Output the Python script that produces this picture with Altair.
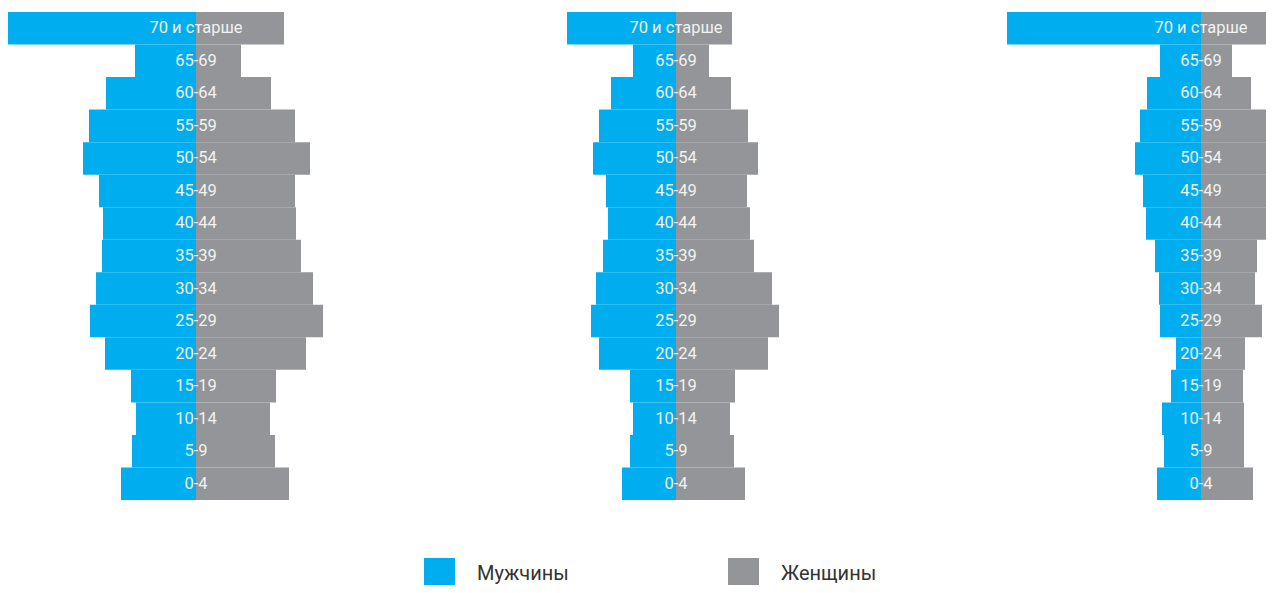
import altair as alt
import pandas as pd

ages = ["70 и старше", "65-69", "60-64", "55-59", "50-54", "45-49", "40-44",
        "35-39", "30-34", "25-29", "20-24", "15-19", "10-14", "5-9", "0-4"]
sexes = ["Мужчины", "Женщины"]
colors = ["#00AEEF", "#939598"]

male_1 = [188, 61, 90, 107, 113, 97, 93, 94, 100, 106, 91, 65, 60, 64, 75]
female_1 = [88, 45, 75, 99, 114, 99, 100, 105, 117, 127, 110, 80, 74, 79, 93]
male_2 = [109, 43, 65, 77, 83, 70, 68, 73, 80, 85, 77, 46, 43, 46, 54]
female_2 = [56, 33, 55, 72, 82, 71, 74, 78, 96, 103, 92, 59, 54, 58, 69]
male_3 = [194, 41, 54, 61, 66, 58, 55, 46, 42, 41, 25, 30, 39, 37, 44]
female_3 = [80, 31, 50, 69, 78, 76, 75, 56, 54, 61, 44, 42, 43, 43, 52]

FONT = "Roboto"


def panel(male, female, domain, width):
    rows = []
    for a, m, f in zip(ages, male, female):
        rows.append({"age": a, "sex": sexes[0], "value": m})
        rows.append({"age": a, "sex": sexes[1], "value": f})
    df = pd.DataFrame(rows)
    xscale = alt.Scale(domain=domain, nice=False, zero=False)
    yenc = alt.Y("age:N", sort=ages, axis=None,
                 scale=alt.Scale(paddingInner=0, paddingOuter=0))
    base = alt.Chart(df).transform_calculate(
        signed=f"datum.sex == '{sexes[0]}' ? -datum.value : datum.value",
        zero="0",
    )
    bars = base.mark_bar(clip=True, strokeWidth=0).encode(
        x=alt.X("signed:Q", scale=xscale, axis=None),
        y=yenc,
        color=alt.Color(
            "sex:N",
            scale=alt.Scale(domain=sexes, range=colors),
            legend=alt.Legend(
                orient="none", legendX=416, legendY=546, direction="horizontal",
                title=None, symbolType="square", symbolSize=961,
                symbolStrokeWidth=0, symbolOpacity=1,
                labelFont=FONT, labelFontSize=20, labelColor="#333333",
                labelOffset=22, columnPadding=159,
            ),
        ),
    )
    labels = base.transform_filter(
        f"datum.sex == '{sexes[0]}'"
    ).mark_text(
        color="#F1F2F2", fontSize=16.5, font=FONT,
        align="center", baseline="middle",
    ).encode(
        x=alt.X("zero:Q", scale=xscale, axis=None),
        y=yenc,
        text="age:N",
    )
    return alt.layer(bars, labels).properties(width=width, height=488)


p1 = panel(male_1, female_1, [-188, 244], 432)
p2 = panel(male_2, female_2, [-236, 224], 460)
p3 = panel(male_3, female_3, [-301, 65], 366)

chart = alt.hconcat(p1, p2, p3, spacing=0).properties(
    padding={"left": 0, "top": 4, "right": 0, "bottom": -4}
).configure_view(strokeWidth=0)

chart.save("out.html", embed_options={"renderer": "svg", "actions": False})
